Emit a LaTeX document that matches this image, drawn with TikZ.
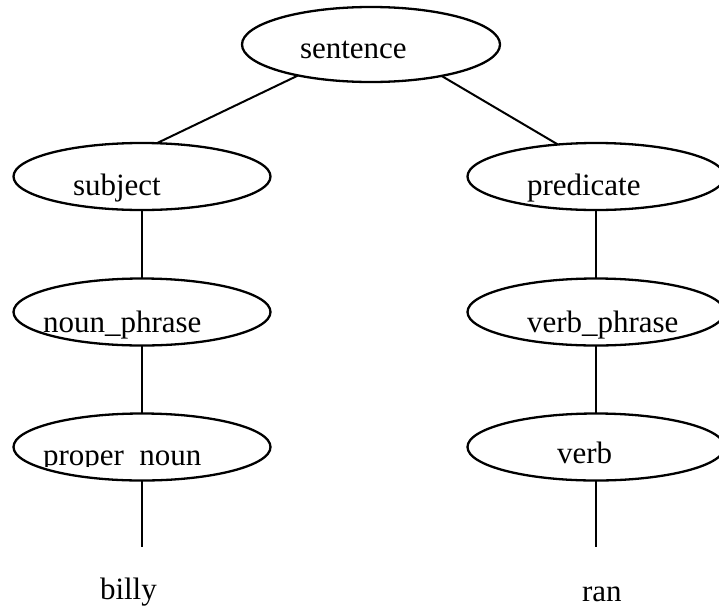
\documentclass[tikz,border=0pt]{standalone}
\usepackage{fontspec}
\setmainfont{Liberation Serif}
\usetikzlibrary{shapes.geometric}
\begin{document}
\begin{tikzpicture}[x=1pt,y=-1pt,
  oval/.style={draw, ellipse, line width=2.3pt, inner sep=0pt, outer sep=0pt, minimum width=257pt, minimum height=67pt},
  lbl/.style={anchor=base west, inner sep=0pt, outer sep=0pt, font=\fontsize{31}{36}\selectfont},
  edge/.style={line width=2pt}]
\clip (0,0) rectangle (719,608);
% ellipses
\node[oval, minimum width=258pt, minimum height=75pt] (sentence) at (371,44.5) {};
\node[oval] (subject) at (142,176.5) {};
\node[oval] (predicate) at (596,176.5) {};
\node[oval] (nounphrase) at (142,312) {};
\node[oval] (verbphrase) at (596,312) {};
\node[oval] (propernoun) at (142,447) {};
\node[oval] (verb) at (596,447) {};
% labels
\node[lbl] (sentenceT) at (300,58) {sentence};
\node[lbl] (subjectT) at (73,195) {subject};
\node[lbl] (predicateT) at (527,195) {predicate};
\node[lbl] (nounphraseT) at (43,332) {noun\_phrase};
\node[lbl] (verbphraseT) at (527,332) {verb\_phrase};
\begin{scope}
\clip (0,0) rectangle (300,466);
\node[lbl] (propernounT) at (43,465) {proper\_noun};
\end{scope}
\node[lbl] (verbT) at (557,463) {verb};
\node[lbl] (billy) at (100,599) {billy};
\node[lbl] (ran) at (582,601) {ran};
% connectors
\coordinate (billyTop) at (142,547);
\coordinate (ranTop) at (596,547);
\draw[edge] (sentence.203.3) -- (subject.66.6);
\draw[edge] (sentence.336.1) -- (predicate.140.7);
\draw[edge] (subject.south) -- (nounphrase.north);
\draw[edge] (nounphrase.south) -- (propernoun.north);
\draw[edge] (propernoun.south) -- (billyTop);
\draw[edge] (predicate.south) -- (verbphrase.north);
\draw[edge] (verbphrase.south) -- (verb.north);
\draw[edge] (verb.south) -- (ranTop);
\end{tikzpicture}
\end{document}
